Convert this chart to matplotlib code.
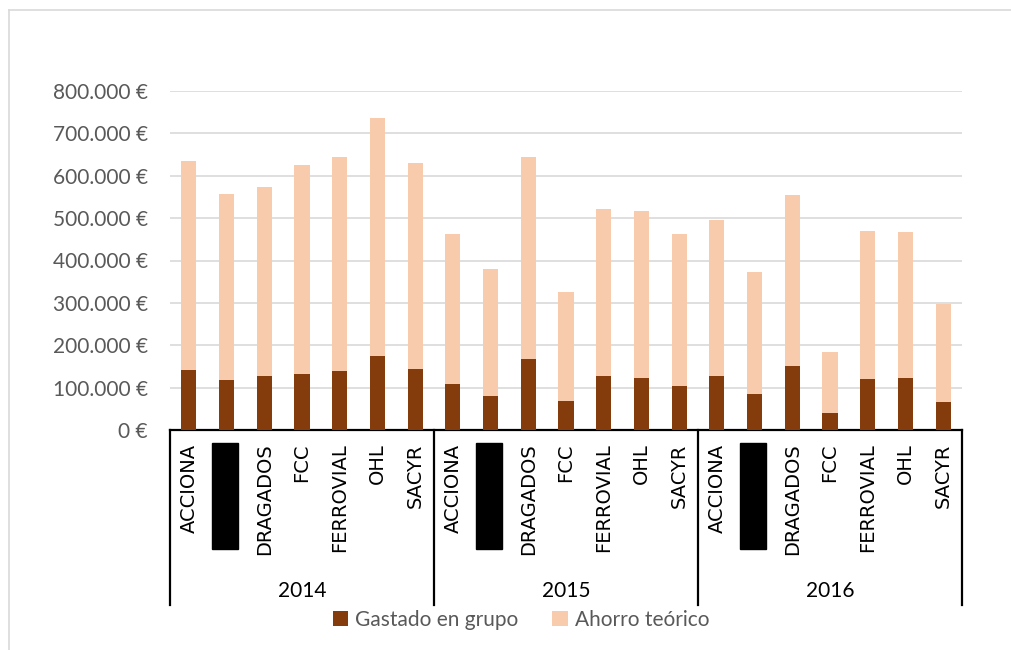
import matplotlib
matplotlib.use("Agg")
from matplotlib import pyplot as plt
from matplotlib.patches import Rectangle
from matplotlib.lines import Line2D
from matplotlib.ticker import FuncFormatter, MultipleLocator
import matplotlib.transforms as mtransforms
import numpy as np

# data (euros)
years = ["2014", "2015", "2016"]
companies = ["ACCIONA", "", "DRAGADOS", "FCC", "FERROVIAL", "OHL", "SACYR"]
hidden = [1]  # label that is blacked out in the original

gastado_2014 = [142000, 118000, 127000, 131000, 139000, 174000, 144000]
gastado_2015 = [108000, 81000, 167000, 68000, 127000, 123000, 105000]
gastado_2016 = [128000, 86000, 152000, 40000, 120000, 122000, 66000]

total_2014 = [635000, 557000, 573000, 625000, 644000, 736000, 630000]
total_2015 = [462000, 380000, 644000, 325000, 522000, 516000, 463000]
total_2016 = [496000, 373000, 555000, 184000, 470000, 467000, 298000]

gastado = np.array(gastado_2014 + gastado_2015 + gastado_2016)
total = np.array(total_2014 + total_2015 + total_2016)
ahorro = total - gastado

dark = "#843C0C"
light = "#F8CBAD"
grey_text = "#595959"

W, H = 1011, 650
fig = plt.figure(figsize=(W / 100, H / 100), dpi=100)
ax = fig.add_axes([170 / W, 1 - 430 / H, (962 - 170) / W, (430 - 91) / H])

x = np.arange(len(gastado))
ax.bar(x, gastado, width=0.4, color=dark, label="Gastado en grupo", zorder=3)
ax.bar(x, ahorro, width=0.4, bottom=gastado, color=light, label="Ahorro teórico", zorder=3)

ax.set_xlim(-0.5, len(x) - 0.5)
ax.set_ylim(0, 800000)
ax.yaxis.set_major_locator(MultipleLocator(100000))
ax.yaxis.set_major_formatter(FuncFormatter(lambda v, p: f"{int(v):,}".replace(",", ".") + " €"))
ax.grid(axis="y", color="#D9D9D9", lw=1.2, zorder=0)
ax.tick_params(axis="y", length=0, pad=16, labelsize=15, labelcolor=grey_text)
for lbl in ax.get_yticklabels():
    lbl.set_family("Lato")
ax.set_xticks([])
for s in ["top", "right", "left"]:
    ax.spines[s].set_visible(False)
ax.spines["bottom"].set_color("black")
ax.spines["bottom"].set_linewidth(1.6)

# multi-level category axis
trans = mtransforms.blended_transform_factory(ax.transData, ax.transAxes)
n = len(companies)
for g, yr in enumerate(years):
    for i, name in enumerate(companies):
        xi = g * n + i
        if i in hidden:
            ax.add_patch(Rectangle((xi - 0.38, -0.352), 0.68, 0.314, transform=trans,
                                   color="black", clip_on=False))
        else:
            ax.text(xi, -0.04, name, transform=trans, rotation=90, ha="center", va="top",
                    fontsize=14, family="DejaVu Sans", color="black")
    ax.text(g * n + (n - 1) / 2, -0.475, yr, transform=trans, ha="center", va="center",
            fontsize=15, family="Lato", color="black")
for b in range(len(years) + 1):
    ax.plot([b * n - 0.5, b * n - 0.5], [0, -0.516], transform=trans, color="black",
            lw=1.6, clip_on=False)

fig.legend(loc="center", bbox_to_anchor=(521 / W, 1 - 620 / H), ncol=2, frameon=False,
           handlelength=0.75, handleheight=0.75, handletextpad=0.35, columnspacing=1.6,
           prop={"family": "Lato", "size": 15}, labelcolor=grey_text)

# light outer frame (only left and top edges are inside the picture)
fig.add_artist(Line2D([9 / W, 9 / W], [0, 1 - 10 / H], transform=fig.transFigure,
                      color="#D9D9D9", lw=1.2))
fig.add_artist(Line2D([9 / W, 1.0], [1 - 10 / H, 1 - 10 / H], transform=fig.transFigure,
                      color="#D9D9D9", lw=1.2))

fig.savefig("out.png", dpi=100)
